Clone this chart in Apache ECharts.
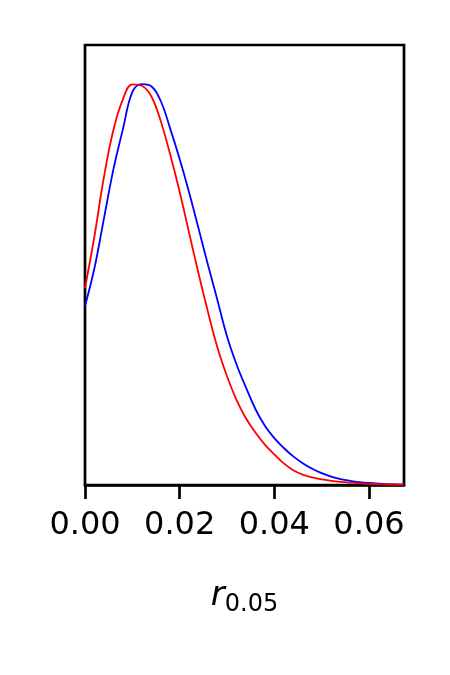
<!DOCTYPE html>
<html>
<head>
<meta charset="utf-8">
<script src="https://cdn.jsdelivr.net/npm/echarts@6/dist/echarts.min.js"></script>
<style>
  html, body { margin: 0; padding: 0; background: #fff; }
  #chart { width: 450px; height: 675px; }
</style>
</head>
<body>
<div id="chart"></div>
<script>
// x grid (r_0.05)
var xs = [0, 0.002, 0.004, 0.006, 0.008, 0.010, 0.012, 0.014, 0.016, 0.018,
  0.020, 0.022, 0.024, 0.026, 0.028, 0.030, 0.032, 0.034, 0.036, 0.038,
  0.040, 0.042, 0.044, 0.046, 0.048, 0.050, 0.052, 0.054, 0.056, 0.058,
  0.060, 0.062, 0.064, 0.066, 0.0674];

// densities (normalised)
var redVals = [0.4925, 0.6225, 0.77, 0.8875, 0.964, 1.0018, 0.998, 0.972, 0.91, 0.826,
  0.733, 0.63, 0.528, 0.432, 0.343, 0.272, 0.213, 0.167, 0.131, 0.101,
  0.0765, 0.054, 0.037, 0.026, 0.019, 0.014, 0.0105, 0.0078, 0.0058, 0.0042,
  0.003, 0.0021, 0.0015, 0.001, 0.0008];
var blueVals = [0.4475, 0.5425, 0.666, 0.789, 0.889, 0.982, 1.002, 0.997, 0.96, 0.891,
  0.815, 0.7315, 0.641, 0.5495, 0.4615, 0.372, 0.302, 0.244, 0.19, 0.148,
  0.117, 0.0925, 0.0715, 0.0545, 0.0405, 0.0295, 0.021, 0.0148, 0.0105, 0.0073,
  0.005, 0.0033, 0.0021, 0.0013, 0.0009];

var xTicks = [0, 0.02, 0.04, 0.06];

function pairs(vals) {
  return xs.map(function (x, i) { return [x, vals[i]]; });
}

var myChart = echarts.init(document.getElementById('chart'));

var option = {
  animation: false,
  backgroundColor: '#fff',
  textStyle: { fontFamily: 'DejaVu Sans' },
  grid: {
    show: true,
    left: 85, right: 46, top: 45, bottom: 190,
    borderColor: '#000', borderWidth: 2.7,
    backgroundColor: 'transparent'
  },
  xAxis: {
    type: 'value',
    min: 0, max: 0.0674, interval: 0.02,
    axisLine: { show: true, lineStyle: { color: '#000', width: 2.7 } },
    axisTick: { show: true, length: 14, lineStyle: { color: '#000', width: 2.7 }, customValues: xTicks },
    axisLabel: {
      color: '#000', fontSize: 32, margin: 25,
      customValues: xTicks,
      formatter: function (v) { return v.toFixed(2); }
    },
    splitLine: { show: false },
    name: '{r|r}{s|0.05}',
    nameLocation: 'middle',
    nameGap: 94,
    nameTextStyle: {
      rich: {
        r: { fontSize: 34, fontStyle: 'italic', color: '#000', verticalAlign: 'bottom', padding: [0, 0, 4, 0] },
        s: { fontSize: 24, color: '#000', verticalAlign: 'bottom' }
      }
    }
  },
  yAxis: {
    type: 'value',
    min: 0, max: 1.1,
    axisLine: { show: false },
    axisTick: { show: false },
    axisLabel: { show: false },
    splitLine: { show: false }
  },
  series: [
    {
      type: 'line', data: pairs(blueVals), smooth: 0.4, showSymbol: false,
      lineStyle: { color: '#0000ff', width: 1.8 }
    },
    {
      type: 'line', data: pairs(redVals), smooth: 0.4, showSymbol: false,
      lineStyle: { color: '#ff0000', width: 1.8 }
    }
  ]
};

myChart.setOption(option);
</script>
</body>
</html>
